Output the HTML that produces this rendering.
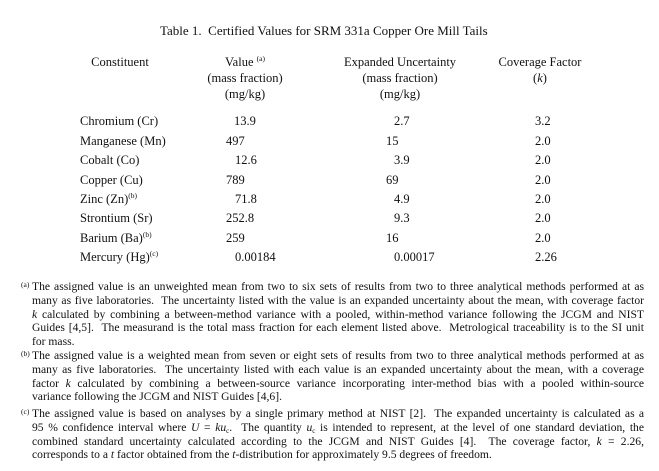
<!DOCTYPE html>
<html><head><meta charset="utf-8"><style>
body{margin:0;width:659px;height:471px;background:#fff;font-family:"Liberation Serif",serif;color:#111;position:relative;overflow:hidden}
.t{position:absolute;font-size:12.5px;white-space:nowrap;line-height:14px}
.c{position:absolute;text-align:center;font-size:12.5px;line-height:16px;white-space:nowrap}
sup{font-size:7.5px;vertical-align:5px;line-height:0}
sub{font-size:7px;vertical-align:-2px;line-height:0}
.fn{position:absolute;left:32px;width:612px;font-size:11.6px;line-height:13.8px}
.fn div{text-align:justify;text-align-last:justify;white-space:nowrap;overflow:visible;height:13.8px}
.fn div.l{text-align-last:left}
.m{position:absolute;left:-11px;font-size:7.5px;top:-2px}
</style></head><body>
<div class="t" style="left:160px;top:24px;font-size:13px">Table 1.&nbsp; Certified Values for SRM 331a Copper Ore Mill Tails</div>
<div class="c" style="left:70px;width:100px;top:54px">Constituent</div>
<div class="c" style="left:190px;width:110px;top:54px">Value <sup>(a)</sup><br>(mass fraction)<br>(mg/kg)</div>
<div class="c" style="left:330px;width:140px;top:54px">Expanded Uncertainty<br>(mass fraction)<br>(mg/kg)</div>
<div class="c" style="left:480px;width:120px;top:54px">Coverage Factor<br>(<i>k</i>)</div>

<div class="t" style="left:80px;top:114px">Chromium (Cr)</div>
<div class="t" style="left:80px;top:134px">Manganese (Mn)</div>
<div class="t" style="left:80px;top:153px">Cobalt (Co)</div>
<div class="t" style="left:80px;top:173px">Copper (Cu)</div>
<div class="t" style="left:80px;top:192px">Zinc (Zn)<sup>(b)</sup></div>
<div class="t" style="left:80px;top:211px">Strontium (Sr)</div>
<div class="t" style="left:80px;top:231px">Barium (Ba)<sup>(b)</sup></div>
<div class="t" style="left:80px;top:250px">Mercury (Hg)<sup>(c)</sup></div>

<div class="t" style="left:234px;top:114px">13.9</div>
<div class="t" style="left:226px;top:134px">497</div>
<div class="t" style="left:235px;top:153px">12.6</div>
<div class="t" style="left:226px;top:173px">789</div>
<div class="t" style="left:235px;top:192px">71.8</div>
<div class="t" style="left:226px;top:211px">252.8</div>
<div class="t" style="left:226px;top:231px">259</div>
<div class="t" style="left:235px;top:250px">0.00184</div>

<div class="t" style="left:394px;top:114px">2.7</div>
<div class="t" style="left:386px;top:134px">15</div>
<div class="t" style="left:394px;top:153px">3.9</div>
<div class="t" style="left:386px;top:173px">69</div>
<div class="t" style="left:394px;top:192px">4.9</div>
<div class="t" style="left:394px;top:211px">9.3</div>
<div class="t" style="left:386px;top:231px">16</div>
<div class="t" style="left:394px;top:250px">0.00017</div>

<div class="t" style="left:535px;top:114px">3.2</div>
<div class="t" style="left:535px;top:134px">2.0</div>
<div class="t" style="left:535px;top:153px">2.0</div>
<div class="t" style="left:535px;top:173px">2.0</div>
<div class="t" style="left:535px;top:192px">2.0</div>
<div class="t" style="left:535px;top:211px">2.0</div>
<div class="t" style="left:535px;top:231px">2.0</div>
<div class="t" style="left:535px;top:250px">2.26</div>

<div class="fn" style="top:280px">
<span class="m">(a)</span>
<div>The assigned value is an unweighted mean from two to six sets of results from two to three analytical methods performed at as</div>
<div>many as five laboratories.&nbsp; The uncertainty listed with the value is an expanded uncertainty about the mean, with coverage factor</div>
<div><i>k</i> calculated by combining a between-method variance with a pooled, within-method variance following the JCGM and NIST</div>
<div>Guides [4,5].&nbsp; The measurand is the total mass fraction for each element listed above.&nbsp; Metrological traceability is to the SI unit</div>
<div class="l">for mass.</div>
</div>
<div class="fn" style="top:349px">
<span class="m">(b)</span>
<div>The assigned value is a weighted mean from seven or eight sets of results from two to three analytical methods performed at as</div>
<div>many as five laboratories.&nbsp; The uncertainty listed with each value is an expanded uncertainty about the mean, with a coverage</div>
<div>factor <i>k</i> calculated by combining a between-source variance incorporating inter-method bias with a pooled within-source</div>
<div class="l">variance following the JCGM and NIST Guides [4,6].</div>
</div>
<div class="fn" style="top:407px">
<span class="m">(c)</span>
<div>The assigned value is based on analyses by a single primary method at NIST [2].&nbsp; The expanded uncertainty is calculated as a</div>
<div>95 % confidence interval where <i>U</i> = <i>ku</i><sub>c</sub>.&nbsp; The quantity <i>u</i><sub>c</sub> is intended to represent, at the level of one standard deviation, the</div>
<div>combined standard uncertainty calculated according to the JCGM and NIST Guides [4].&nbsp; The coverage factor, <i>k</i> = 2.26,</div>
<div class="l">corresponds to a <i>t</i> factor obtained from the <i>t</i>-distribution for approximately 9.5 degrees of freedom.</div>
</div>
</body></html>
